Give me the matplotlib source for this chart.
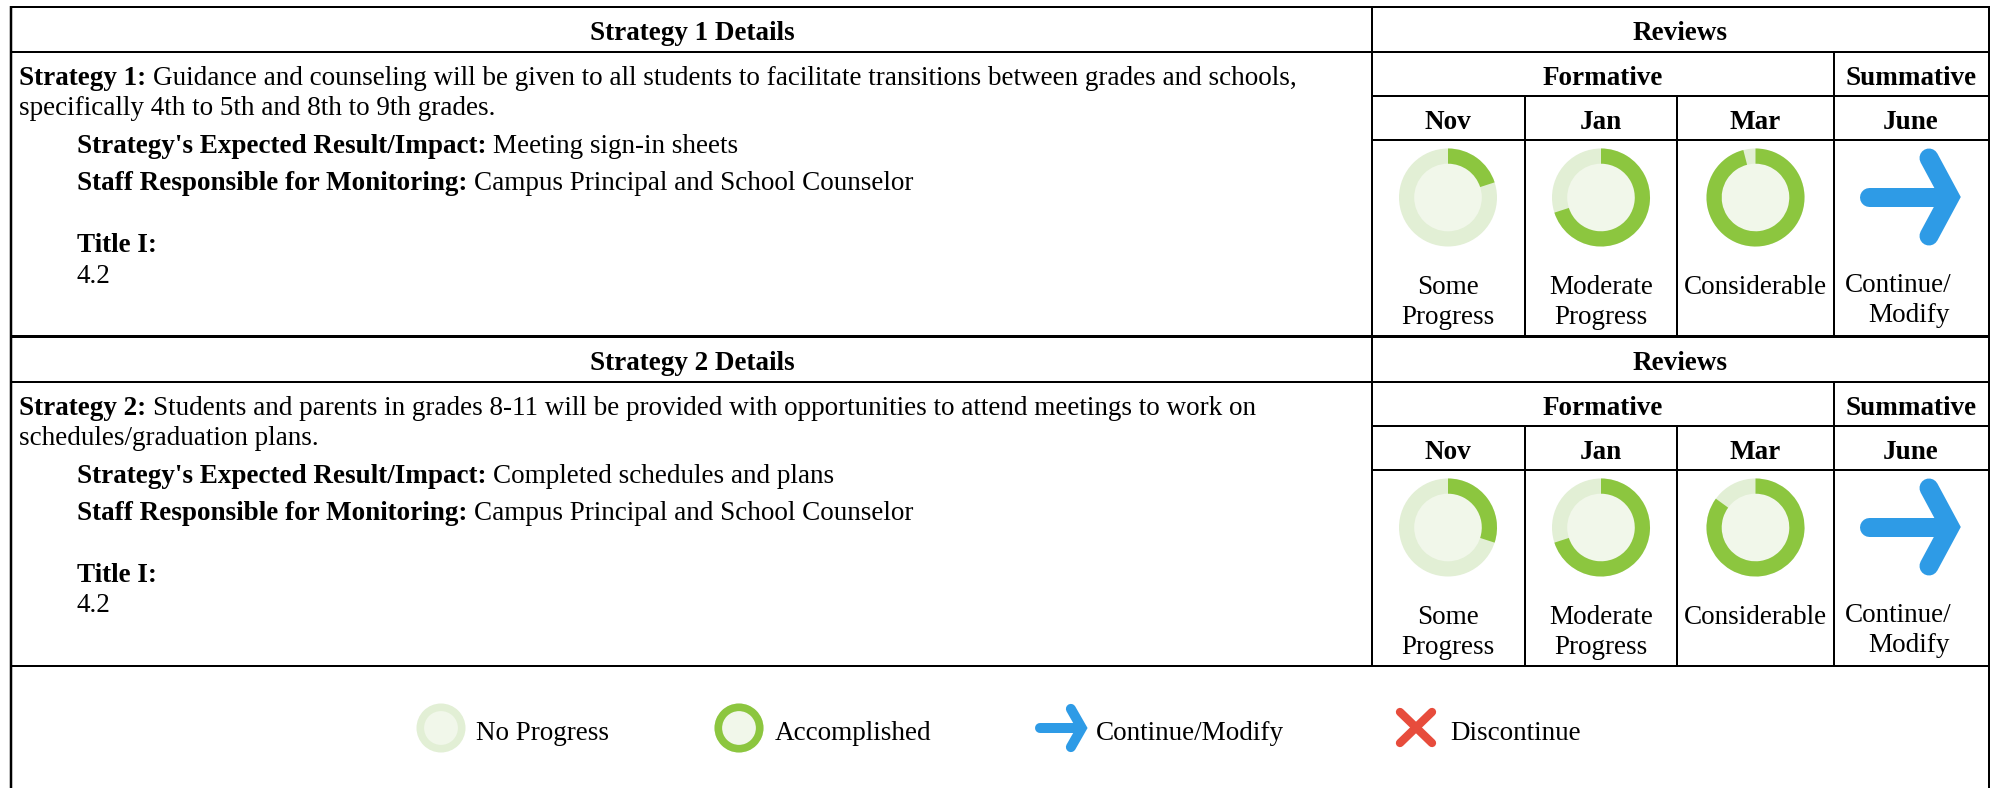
import matplotlib
matplotlib.use('Agg')
from matplotlib import pyplot as plt
from matplotlib.patches import Circle, Wedge

# Text of the table
strategy_titles = ["Strategy 1 Details", "Strategy 2 Details"]
strategy_heads = ["Strategy 1:", "Strategy 2:"]
strategy_line1 = ["Guidance and counseling will be given to all students to facilitate transitions between grades and schools,",
                  "Students and parents in grades 8-11 will be provided with opportunities to attend meetings to work on"]
strategy_line2 = ["specifically 4th to 5th and 8th to 9th grades.", "schedules/graduation plans."]
expected = ["Meeting sign-in sheets", "Completed schedules and plans"]
staff = "Campus Principal and School Counselor"
months = ["Nov", "Jan", "Mar"]
progress_labels = [["Some", "Progress"], ["Moderate", "Progress"], ["Considerable"]]
legend_labels = ["No Progress", "Accomplished", "Continue/Modify", "Discontinue"]

# Share of each ring that is filled in
progress_s1 = [0.20, 0.70, 0.96]
progress_s2 = [0.30, 0.70, 0.85]

GREEN = '#8CC63F'
LIGHT = '#E2EFD5'
INNER = '#F1F7EA'
BLUE = '#2E9BE6'
RED = '#E74C3C'
FONT = 'Liberation Serif'
SIZE = 19.5

fig = plt.figure(figsize=(19.97, 7.88), dpi=100)
ax = fig.add_axes([0, 0, 1, 1])
ax.set_xlim(0, 1997)
ax.set_ylim(788, 0)
ax.axis('off')


def label(x, y, s, bold=False, ha='left'):
    return ax.text(x, y + 1.5, s, family=FONT, fontsize=SIZE, ha=ha, va='baseline',
                   fontweight='bold' if bold else 'normal', color='black')


# bold head followed by normal text on the same baseline
def mixed(x, y, head, rest):
    t = label(x, y, head, bold=True)
    box = t.get_window_extent(fig.canvas.get_renderer())
    label(box.x1 + 7, y, rest)


def hline(y, x0, x1, lw=2.0):
    ax.plot([x0, x1], [y, y], color='black', lw=lw * 0.72, solid_capstyle='butt')


def vline(x, y0, y1, lw=2.0):
    ax.plot([x, x], [y0, y1], color='black', lw=lw * 0.72, solid_capstyle='butt')


def ring(cx, cy, r, frac):
    inner = r * 0.69
    ax.add_patch(Circle((cx, cy), r, fc=LIGHT, ec='none'))
    ax.add_patch(Circle((cx, cy), inner, fc=INNER, ec='none'))
    if frac > 0:
        # y axis is flipped so angles run clockwise, 270 is the top
        ax.add_patch(Wedge((cx, cy), r, 270, 270 + 360 * frac, width=r - inner, fc=GREEN, ec='none'))


def arrow(cx, cy, sx, sy, thick):
    lw = thick * 0.72
    ax.plot([cx - 41 * sx, cx + 38 * sx], [cy, cy], color=BLUE, lw=lw, solid_capstyle='round')
    ax.plot([cx + 19 * sx, cx + 40 * sx, cx + 19 * sx], [cy - 39 * sy, cy, cy + 39 * sy], color=BLUE, lw=lw,
            solid_capstyle='round', solid_joinstyle='miter')


def block(dy, idx, fracs):
    # grid of the block
    hline(7 + dy, 11, 1989)
    hline(52 + dy, 11, 1989)
    hline(96 + dy, 1372, 1989)
    hline(140 + dy, 1372, 1989)
    hline(336 + dy, 11, 1989)
    vline(1372, 7 + dy, 336 + dy)
    vline(1834, 52 + dy, 336 + dy)
    for x in [1525, 1677]:
        vline(x, 96 + dy, 336 + dy)

    # left side
    label(692, 38 + dy, strategy_titles[idx], bold=True, ha='center')
    mixed(19, 83 + dy, strategy_heads[idx], strategy_line1[idx])
    label(19, 113 + dy, strategy_line2[idx])
    mixed(77, 151 + dy, "Strategy's Expected Result/Impact:", expected[idx])
    mixed(77, 188 + dy, "Staff Responsible for Monitoring:", staff)
    label(77, 250 + dy, "Title I:", bold=True)
    label(77, 281 + dy, "4.2")

    # review side
    label(1680, 38 + dy, "Reviews", bold=True, ha='center')
    label(1603, 83 + dy, "Formative", bold=True, ha='center')
    label(1911, 83 + dy, "Summative", bold=True, ha='center')
    centers = [1448, 1601, 1755.5]
    for i, m in enumerate(months):
        label(centers[i], 127 + dy, m, bold=True, ha='center')
        ring(centers[i], 197.5 + dy, 49, fracs[i])
        for j, s in enumerate(progress_labels[i]):
            label(centers[i], 292 + j * 30 + dy, s, ha='center')
    label(1911, 127 + dy, "June", bold=True, ha='center')
    arrow(1910, 197 + dy, 1.0, 1.0, 19)
    label(1845, 290 + dy, "Continue/")
    label(1950, 320 + dy, "Modify", ha='right')


block(0, 0, progress_s1)
block(330, 1, progress_s2)

# outer frame
vline(11.5, 6, 788, lw=2.5)
vline(1989, 6, 788, lw=2.0)

# legend row
ring(441, 728, 24.5, 0)
ring(739, 728, 24.5, 1)
arrow(1061, 728, 0.52, 0.49, 10)
ax.plot([1400, 1432], [712, 743], color=RED, lw=6, solid_capstyle='round')
ax.plot([1400, 1432], [743, 712], color=RED, lw=6, solid_capstyle='round')
for x, s in zip([476, 775, 1096, 1450], legend_labels):
    label(x, 739, s)

plt.savefig('out.png', dpi=100)
plt.close(fig)
